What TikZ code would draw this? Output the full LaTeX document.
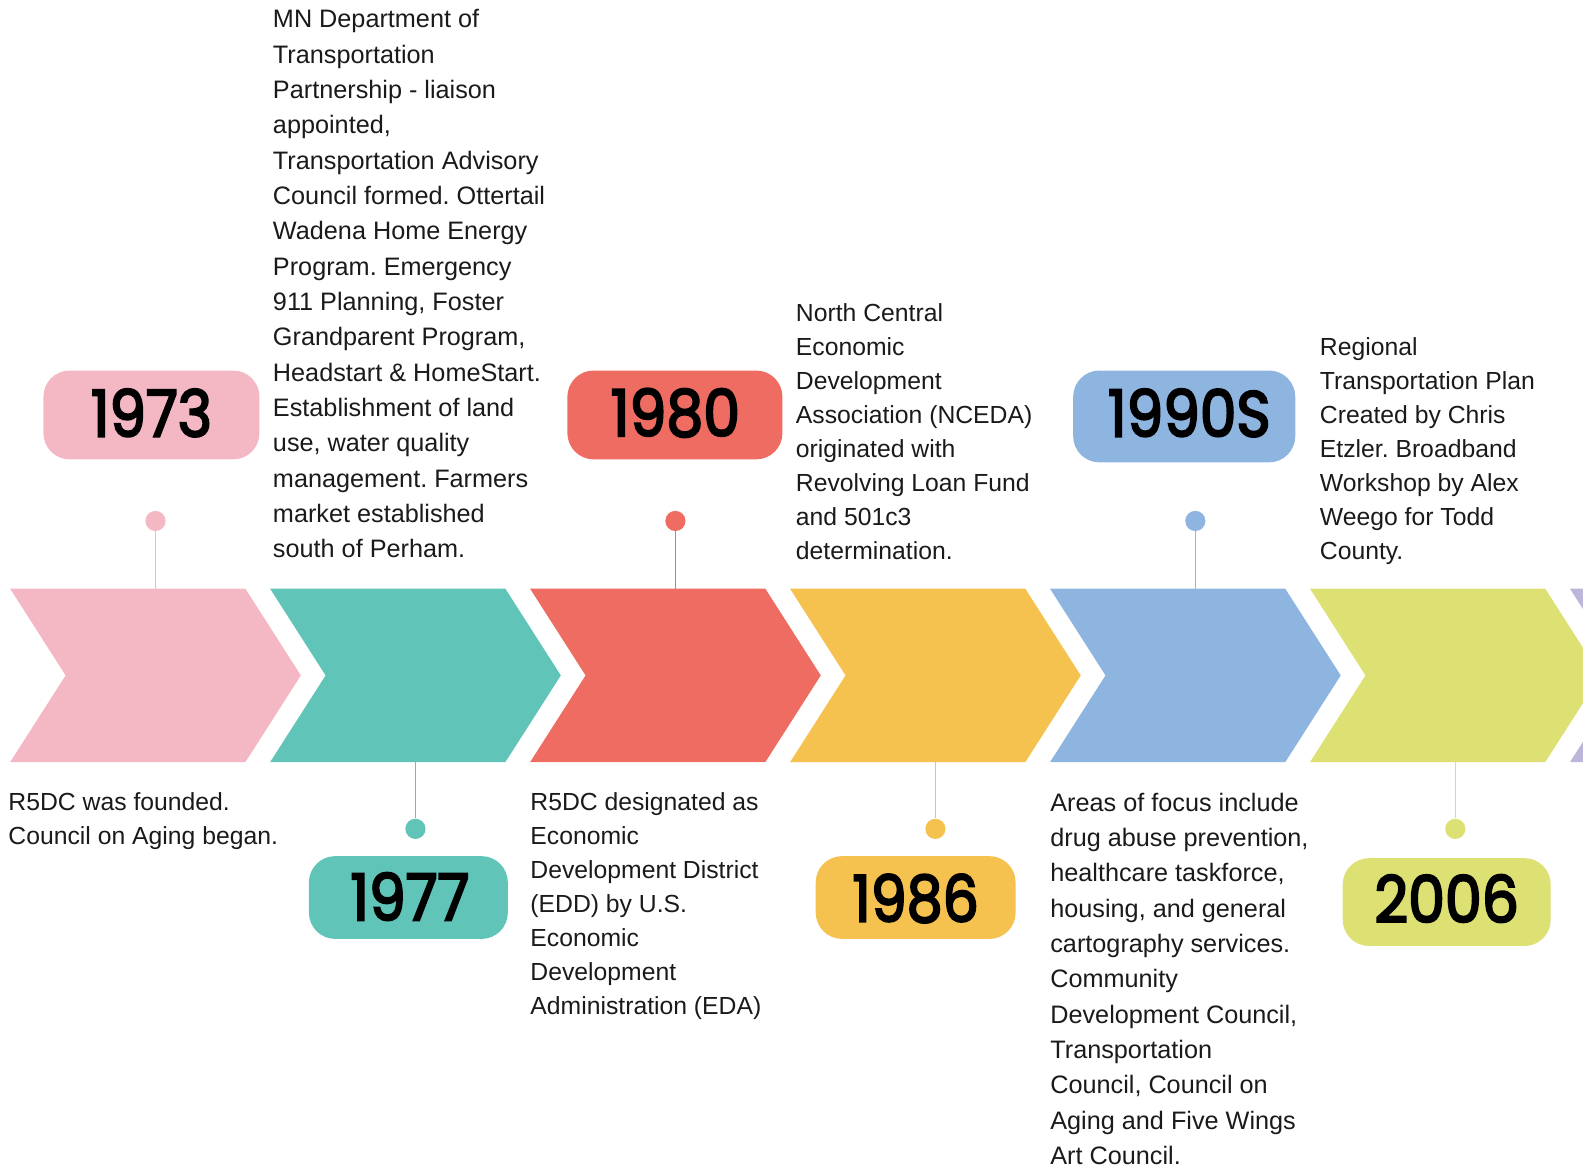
\documentclass[tikz,border=0pt]{standalone}
\usepackage{fontspec}
\setmainfont{Liberation Sans}
\newfontfamily\yearfont{Poppins}[FakeBold=3.5]
\definecolor{cpink}{HTML}{F4B8C4}
\definecolor{cteal}{HTML}{60C5B8}
\definecolor{cred}{HTML}{EE6C61}
\definecolor{cyel}{HTML}{F5C24F}
\definecolor{cblue}{HTML}{8EB4E0}
\definecolor{cgreen}{HTML}{DDE073}
\definecolor{cpurple}{HTML}{BDB5DA}
\definecolor{ctext}{HTML}{1A1A1A}
\newcommand{\yrw}[2]{\resizebox{#1}{23.5pt}{\yearfont #2}}
\frenchspacing
\begin{document}
\begin{tikzpicture}[x=0.5pt,y=-0.5pt,
  desc/.style={anchor=north west,inner sep=0pt,align=left,text=ctext,
    font=\fontsize{12.5}{17.5}\selectfont},
  descb/.style={desc,font=\fontsize{12.25}{16.85}\selectfont},
  blob/.style={rounded corners=13pt,inner sep=0pt},
  dot/.style={circle,inner sep=0pt,minimum size=10pt},
  stem/.style={line width=0.6pt}]
\useasboundingbox (0,0) rectangle (1568,1158);
\begin{scope}
\clip (0,0) rectangle (1568,1158);
% chevrons
\foreach \L/\c in {10/cpink,267.5/cteal,525/cred,782.5/cyel,1040/cblue,1297.5/cgreen,1555/cpurple}{
  \fill[\c] (\L,583) -- ++(233,0) -- ++(55,86) -- ++(-55,86) -- ++(-233,0) -- ++(55,-86) -- cycle;
}
\end{scope}
% stem coordinates on chevrons
\coordinate (c1) at (154,583);
\coordinate (c2) at (411.5,755);
\coordinate (c3) at (669,583);
\coordinate (c4) at (926.5,755);
\coordinate (c5) at (1184,583);
\coordinate (c6) at (1441.5,755);
% dots
\node[dot,fill=cpink] (d1) at (154,516) {};
\node[dot,fill=cteal] (d2) at (411.5,821) {};
\node[dot,fill=cred] (d3) at (669,516) {};
\node[dot,fill=cyel] (d4) at (926.5,821) {};
\node[dot,fill=cblue] (d5) at (1184,516) {};
\node[dot,fill=cgreen] (d6) at (1441.5,821) {};
\draw[stem,cpink] (d1) -- (c1);
\draw[stem,cteal] (d2) -- (c2);
\draw[stem,cred] (d3) -- (c3);
\draw[stem,cyel] (d4) -- (c4);
\draw[stem,cblue] (d5) -- (c5);
\draw[stem,cgreen] (d6) -- (c6);
% year blobs
\fill[cpink,blob] (43,367) rectangle (257,455);
\node (y1) at (150,409) {\yrw{60pt}{1973}};
\fill[cred,blob] (562,367) rectangle (775,455);
\node (y3) at (669,409) {\yrw{64pt}{1980}};
\fill[cblue,blob] (1063,367) rectangle (1283,458);
\node (y5) at (1178,409) {\yrw{80.5pt}{1990S}};
\fill[cteal,blob] (306,848) rectangle (503,930);
\node (y2) at (406,888) {\yrw{59pt}{1977}};
\fill[cyel,blob] (808,848) rectangle (1006,930);
\node (y4) at (907,890) {\yrw{62.5pt}{1986}};
\fill[cgreen,blob] (1330,850) rectangle (1536,937);
\node (y6) at (1433,890) {\yrw{71.5pt}{2006}};
% texts
\node[desc] (t1) at (270,9) {MN Department of\\Transportation\\Partnership - liaison\\appointed,\\Transportation Advisory\\Council formed. Ottertail\\Wadena Home Energy\\Program. Emergency\\911 Planning, Foster\\Grandparent Program,\\Headstart \& HomeStart.\\Establishment of land\\use, water quality\\management. Farmers\\market established\\south of Perham.};
\node[descb] (t3) at (788,300) {North Central\\Economic\\Development\\Association (NCEDA)\\originated with\\Revolving Loan Fund\\and 501c3\\determination.};
\node[descb] (t5) at (1307,334) {Regional\\Transportation Plan\\Created by Chris\\Etzler. Broadband\\Workshop by Alex\\Weego for Todd\\County.};
\node[descb] (t0) at (8,785) {R5DC was founded.\\Council on Aging began.};
\node[descb] (t2) at (525,785) {R5DC designated as\\Economic\\Development District\\(EDD) by U.S.\\Economic\\Development\\Administration (EDA)};
\node[desc] (t4) at (1040,785) {Areas of focus include\\drug abuse prevention,\\healthcare taskforce,\\housing, and general\\cartography services.\\Community\\Development Council,\\Transportation\\Council, Council on\\Aging and Five Wings\\Art Council.};
\end{tikzpicture}
\end{document}
